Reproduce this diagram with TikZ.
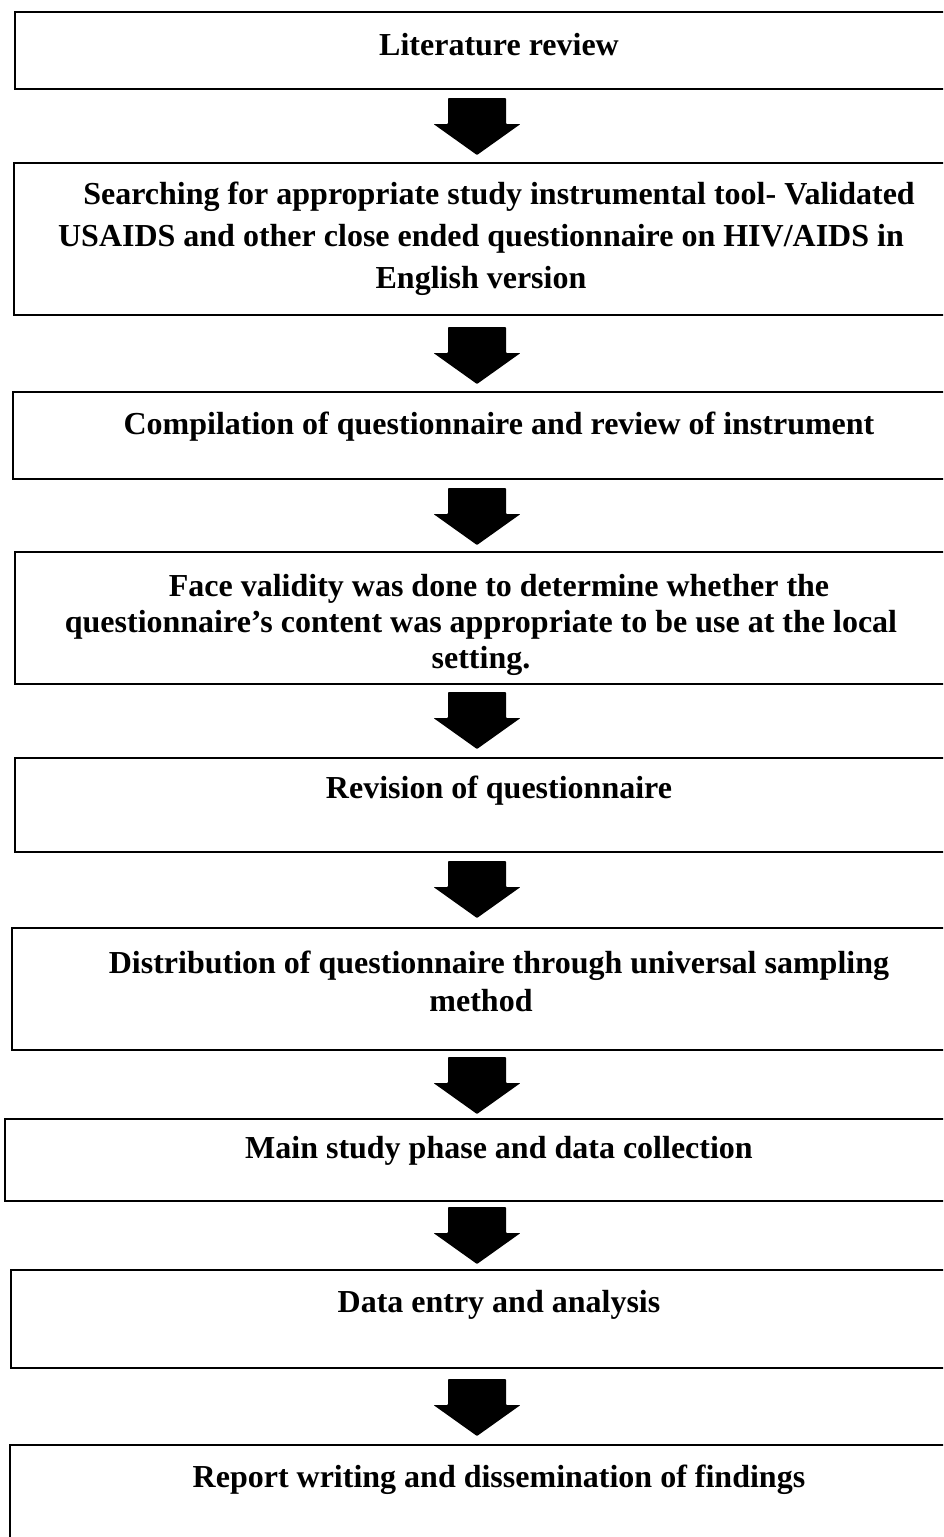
\documentclass[tikz,border=0pt]{standalone}
\usepackage{fontspec}
\setmainfont{Liberation Serif}
\newcommand{\ind}{\hspace*{36pt}}
\begin{document}
\begin{tikzpicture}[x=1pt,y=-1pt,
  stepbox/.style={draw=black, line width=2pt, rectangle, anchor=north west, inner sep=0pt, minimum width=#1},
  stepbox/.default=960pt,
  steptext/.style={font=\fontsize{32}{#1}\selectfont\bfseries, align=center, anchor=base, inner sep=0pt},
  steptext/.default=41pt,
  blockarrow/.pic={\fill[black, rounded corners=0.8pt] (-29,0) -- (29,0) -- (29,26) -- (43.5,26) -- (0,57) -- (-43.5,26) -- (-29,26) -- cycle;}
]
\useasboundingbox (0,0) rectangle (943,1537);
\clip (0,0) rectangle (943,1537);

% boxes
\node[stepbox=946pt, minimum height=77pt]  (b1) at (14,11)   {};
\node[stepbox=947pt, minimum height=152pt] (b2) at (13,162)  {};
\node[stepbox=948pt, minimum height=87pt]  (b3) at (12,391)  {};
\node[stepbox=946pt, minimum height=132pt] (b4) at (14,551)  {};
\node[stepbox=946pt, minimum height=94pt]  (b5) at (14,757)  {};
\node[stepbox=949pt, minimum height=122pt] (b6) at (11,927)  {};
\node[stepbox=956pt, minimum height=82pt]  (b7) at (4,1118)  {};
\node[stepbox=950pt, minimum height=98pt]  (b8) at (10,1269) {};
\node[stepbox=951pt, minimum height=120pt] (b9) at (9,1444)  {};

% texts (anchor base = baseline of the last line)
\node[steptext] (t1) at (481,55) {\ind Literature review};
\node[steptext=42pt] (t2) at (481,288) {\ind Searching for appropriate study instrumental tool- Validated\\USAIDS and other close ended questionnaire on HIV/AIDS in\\English version};
\node[steptext] (t3) at (481,434) {\ind Compilation of questionnaire and review of instrument};
\node[steptext=36pt] (t4) at (481,668) {\ind Face validity was done to determine whether the\\questionnaire’s content was appropriate to be use at the local\\setting.};
\node[steptext] (t5) at (481,798) {\ind Revision of questionnaire};
\node[steptext=38pt] (t6) at (481,1011) {\ind Distribution of questionnaire through universal sampling\\method};
\node[steptext] (t7) at (481,1158) {\ind Main study phase and data collection};
\node[steptext] (t8) at (481,1312) {\ind Data entry and analysis};
\node[steptext] (t9) at (481,1487) {\ind Report writing and dissemination of findings};

% block arrows between boxes
\coordinate (a1) at (477,98);
\coordinate (a2) at (477,327);
\coordinate (a3) at (477,488);
\coordinate (a4) at (477,692);
\coordinate (a5) at (477,861);
\coordinate (a6) at (477,1057);
\coordinate (a7) at (477,1207);
\coordinate (a8) at (477,1379);
\foreach \a in {a1,a2,a3,a4,a5,a6,a7,a8} {\pic at (\a) {blockarrow};}
\end{tikzpicture}
\end{document}
